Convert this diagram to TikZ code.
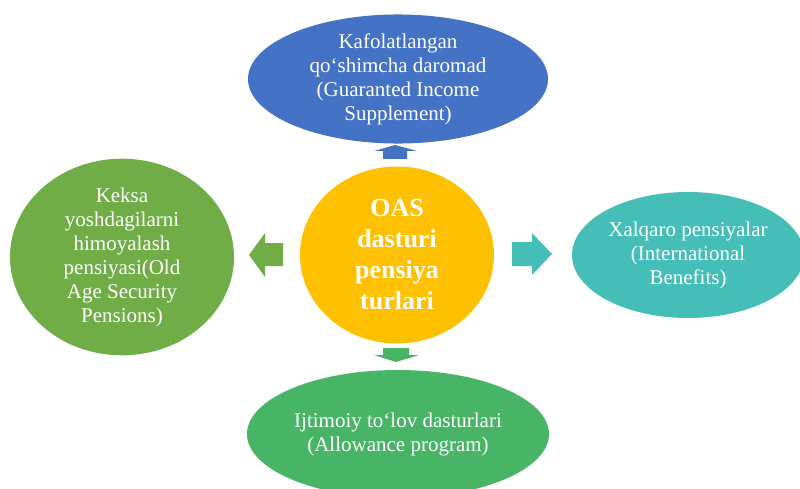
\documentclass[tikz,border=0pt]{standalone}
\usepackage{fontspec}
\setmainfont{Liberation Serif}
\usetikzlibrary{shapes.geometric}
\definecolor{cblue}{HTML}{4472C4}
\definecolor{cgreenl}{HTML}{70AD47}
\definecolor{cyellow}{HTML}{FFC000}
\definecolor{cteal}{HTML}{45BEB8}
\definecolor{cgreenb}{HTML}{48B466}
\begin{document}
\begin{tikzpicture}[x=1pt,y=-1pt,
  bubble/.style={ellipse, inner sep=0pt, text=white, align=center,
    font=\fontsize{21}{24}\selectfont},
  hub/.style={ellipse, inner sep=0pt, text=white, align=center,
    font=\bfseries\fontsize{26}{31}\selectfont},
  blockarrow/.style={draw=none}]
\useasboundingbox (0,0) rectangle (800,489);
\clip (0,0) rectangle (800,489);
\node[hub, fill=cyellow, minimum width=194pt, minimum height=177pt] (oas) at (397,255) {OAS\\dasturi\\pensiya\\turlari};
\node[bubble, fill=cblue, minimum width=300pt, minimum height=118pt] (gis) at (398,79) {Kafolatlangan\\qo‘shimcha daromad\\(Guaranted Income\\Supplement)};
\node[bubble, fill=cgreenl, minimum width=224pt, minimum height=164pt] (oasp) at (122,257) {Keksa\\yoshdagilarni\\himoyalash\\pensiyasi(Old\\Age Security\\Pensions)};
\node[bubble, fill=cteal, minimum width=232pt, minimum height=126pt] (intl) at (688,255) {Xalqaro pensiyalar\\(International\\Benefits)};
\node[bubble, fill=cgreenb, minimum width=302pt, minimum height=128pt] (allow) at (398,434) {Ijtimoiy to‘lov dasturlari\\(Allowance program)};
% block arrows
\fill[cblue, blockarrow] (383,159) -- (383,151) -- (374,151) -- (395,145) -- (417,151) -- (407,151) -- (407,159) -- cycle;
\fill[cgreenb, blockarrow] (383,348) -- (383,355) -- (374,355) -- (396,362) -- (419,355) -- (409,355) -- (409,348) -- cycle;
\fill[cgreenl, blockarrow] (283,243) -- (265,243) -- (265,233) -- (249,255) -- (265,277) -- (265,266) -- (283,266) -- cycle;
\fill[cteal, blockarrow] (512,242) -- (532,242) -- (532,233) -- (552,254) -- (532,275) -- (532,266) -- (512,266) -- cycle;
\end{tikzpicture}
\end{document}
